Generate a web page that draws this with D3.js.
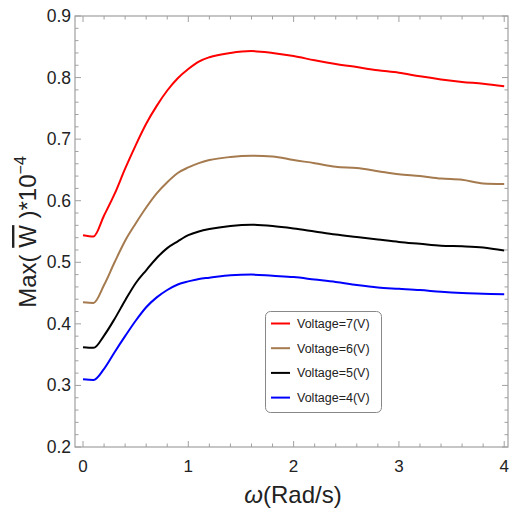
<!DOCTYPE html>
<html>
<head>
<meta charset="utf-8">
<script src="https://cdn.jsdelivr.net/npm/d3@7.9.0/dist/d3.min.js"></script>
<style>
  body { margin: 0; background: #fff; }
  svg { font-family: "Liberation Sans", Arial, sans-serif; }
</style>
</head>
<body>
<svg width="510" height="511"></svg>
<script>
// omega values (Rad/s)
const omega = [0, 0.1, 0.2, 0.3, 0.4, 0.5, 0.6, 0.7, 0.8, 0.9, 1.0, 1.1, 1.2, 1.4, 1.6, 1.8,
  2.0, 2.2, 2.4, 2.6, 2.8, 3.0, 3.2, 3.4, 3.6, 3.8, 4.0];

const v7 = [0.544, 0.542, 0.576, 0.611, 0.652, 0.690, 0.725, 0.754, 0.779, 0.799, 0.814, 0.826, 0.833, 0.840, 0.843, 0.840,
  0.835, 0.828, 0.822, 0.817, 0.812, 0.808, 0.802, 0.797, 0.793, 0.790, 0.786];
const v6 = [0.435, 0.434, 0.463, 0.500, 0.535, 0.563, 0.589, 0.612, 0.630, 0.645, 0.654, 0.661, 0.666, 0.671, 0.673, 0.672,
  0.666, 0.661, 0.655, 0.653, 0.648, 0.643, 0.640, 0.636, 0.634, 0.628, 0.627];
const v5 = [0.362, 0.361, 0.381, 0.408, 0.438, 0.466, 0.487, 0.507, 0.523, 0.534, 0.544, 0.550, 0.554, 0.559, 0.561, 0.559,
  0.555, 0.550, 0.545, 0.541, 0.537, 0.533, 0.530, 0.527, 0.526, 0.524, 0.519];
const v4 = [0.310, 0.309, 0.327, 0.354, 0.380, 0.405, 0.427, 0.443, 0.455, 0.464, 0.469, 0.473, 0.475, 0.479, 0.480, 0.478,
  0.476, 0.472, 0.468, 0.463, 0.459, 0.457, 0.455, 0.452, 0.450, 0.449, 0.448];

const labels = ['Voltage=7(V)', 'Voltage=6(V)', 'Voltage=5(V)', 'Voltage=4(V)'];
const colors = ['#ff0000', '#a57a4e', '#000000', '#0000ff'];
const seriesList = [v7, v6, v5, v4];

const xTicks = [0, 1, 2, 3, 4];
const yTicks = [0.2, 0.3, 0.4, 0.5, 0.6, 0.7, 0.8, 0.9];

const svg = d3.select('svg');
const pLeft = 75, pRight = 508, pTop = 16, pBottom = 447;

const x = d3.scaleLinear().domain([-0.076, 4.036]).range([pLeft, pRight]);
const y = d3.scaleLinear().domain([0.2, 0.9]).range([pBottom, pTop]);

// frame
svg.append('rect')
  .attr('x', pLeft).attr('y', pTop)
  .attr('width', pRight - pLeft).attr('height', pBottom - pTop)
  .attr('fill', 'none').attr('stroke', '#a0a0a0').attr('stroke-width', 1.2);

// ticks on all four sides
const tickColor = '#a0a0a0';
const xMinor = d3.range(0, 4.01, 0.2);
const yMinor = d3.range(0.2, 0.901, 0.02);
xMinor.forEach(t => {
  let major = Math.abs(t - Math.round(t)) < 1e-6;
  let len = major ? 6 : 3.5;
  svg.append('line').attr('x1', x(t)).attr('x2', x(t)).attr('y1', pBottom).attr('y2', pBottom - len)
    .attr('stroke', tickColor);
  svg.append('line').attr('x1', x(t)).attr('x2', x(t)).attr('y1', pTop).attr('y2', pTop + len)
    .attr('stroke', tickColor);
});
yMinor.forEach(t => {
  let major = Math.abs(t * 10 - Math.round(t * 10)) < 1e-6;
  let len = major ? 6 : 3.5;
  svg.append('line').attr('y1', y(t)).attr('y2', y(t)).attr('x1', pLeft).attr('x2', pLeft + len)
    .attr('stroke', tickColor);
  svg.append('line').attr('y1', y(t)).attr('y2', y(t)).attr('x1', pRight).attr('x2', pRight - len)
    .attr('stroke', tickColor);
});

// tick labels
svg.selectAll('.xl').data(xTicks).join('text')
  .attr('x', d => x(d)).attr('y', 472)
  .attr('text-anchor', 'middle').attr('font-size', 17).attr('fill', '#222')
  .text(d => d);
svg.selectAll('.yl').data(yTicks).join('text')
  .attr('x', 71).attr('y', d => y(d) + 6)
  .attr('text-anchor', 'end').attr('font-size', 17.5).attr('fill', '#222')
  .text(d => d.toFixed(1));

// curves
const line = d3.line()
  .x((d, i) => x(omega[i]))
  .y(d => y(d))
  .curve(d3.curveMonotoneX);

seriesList.forEach((s, i) => {
  svg.append('path').attr('d', line(s))
    .attr('fill', 'none').attr('stroke', colors[i]).attr('stroke-width', 2);
});

// axis titles
svg.append('text')
  .attr('x', 293).attr('y', 503)
  .attr('text-anchor', 'middle').attr('font-size', 24).attr('fill', '#222')
  .html('<tspan font-style="italic">ω</tspan>(Rad/s)');

const yt = svg.append('text')
  .attr('transform', 'translate(36,232) rotate(-90)')
  .attr('text-anchor', 'middle').attr('font-size', 24).attr('fill', '#222');
yt.append('tspan').text('Max( ');
yt.append('tspan').attr('style', 'text-decoration: overline').text('W');
yt.append('tspan').text(' )*10');
yt.append('tspan').attr('font-size', 16).attr('dy', -10).text('−4');

// legend
const lg = svg.append('g');
lg.append('rect')
  .attr('x', 265.5).attr('y', 311.5).attr('width', 116).attr('height', 101)
  .attr('rx', 5).attr('fill', '#fff').attr('stroke', '#888');
labels.forEach((lab, i) => {
  let yy = 323.5 + i * 24.7;
  lg.append('line').attr('x1', 271).attr('x2', 290).attr('y1', yy).attr('y2', yy)
    .attr('stroke', colors[i]).attr('stroke-width', 2);
  lg.append('text').attr('x', 297).attr('y', yy + 4.5)
    .attr('font-size', 12.5).attr('fill', '#222').text(lab);
});
</script>
</body>
</html>
